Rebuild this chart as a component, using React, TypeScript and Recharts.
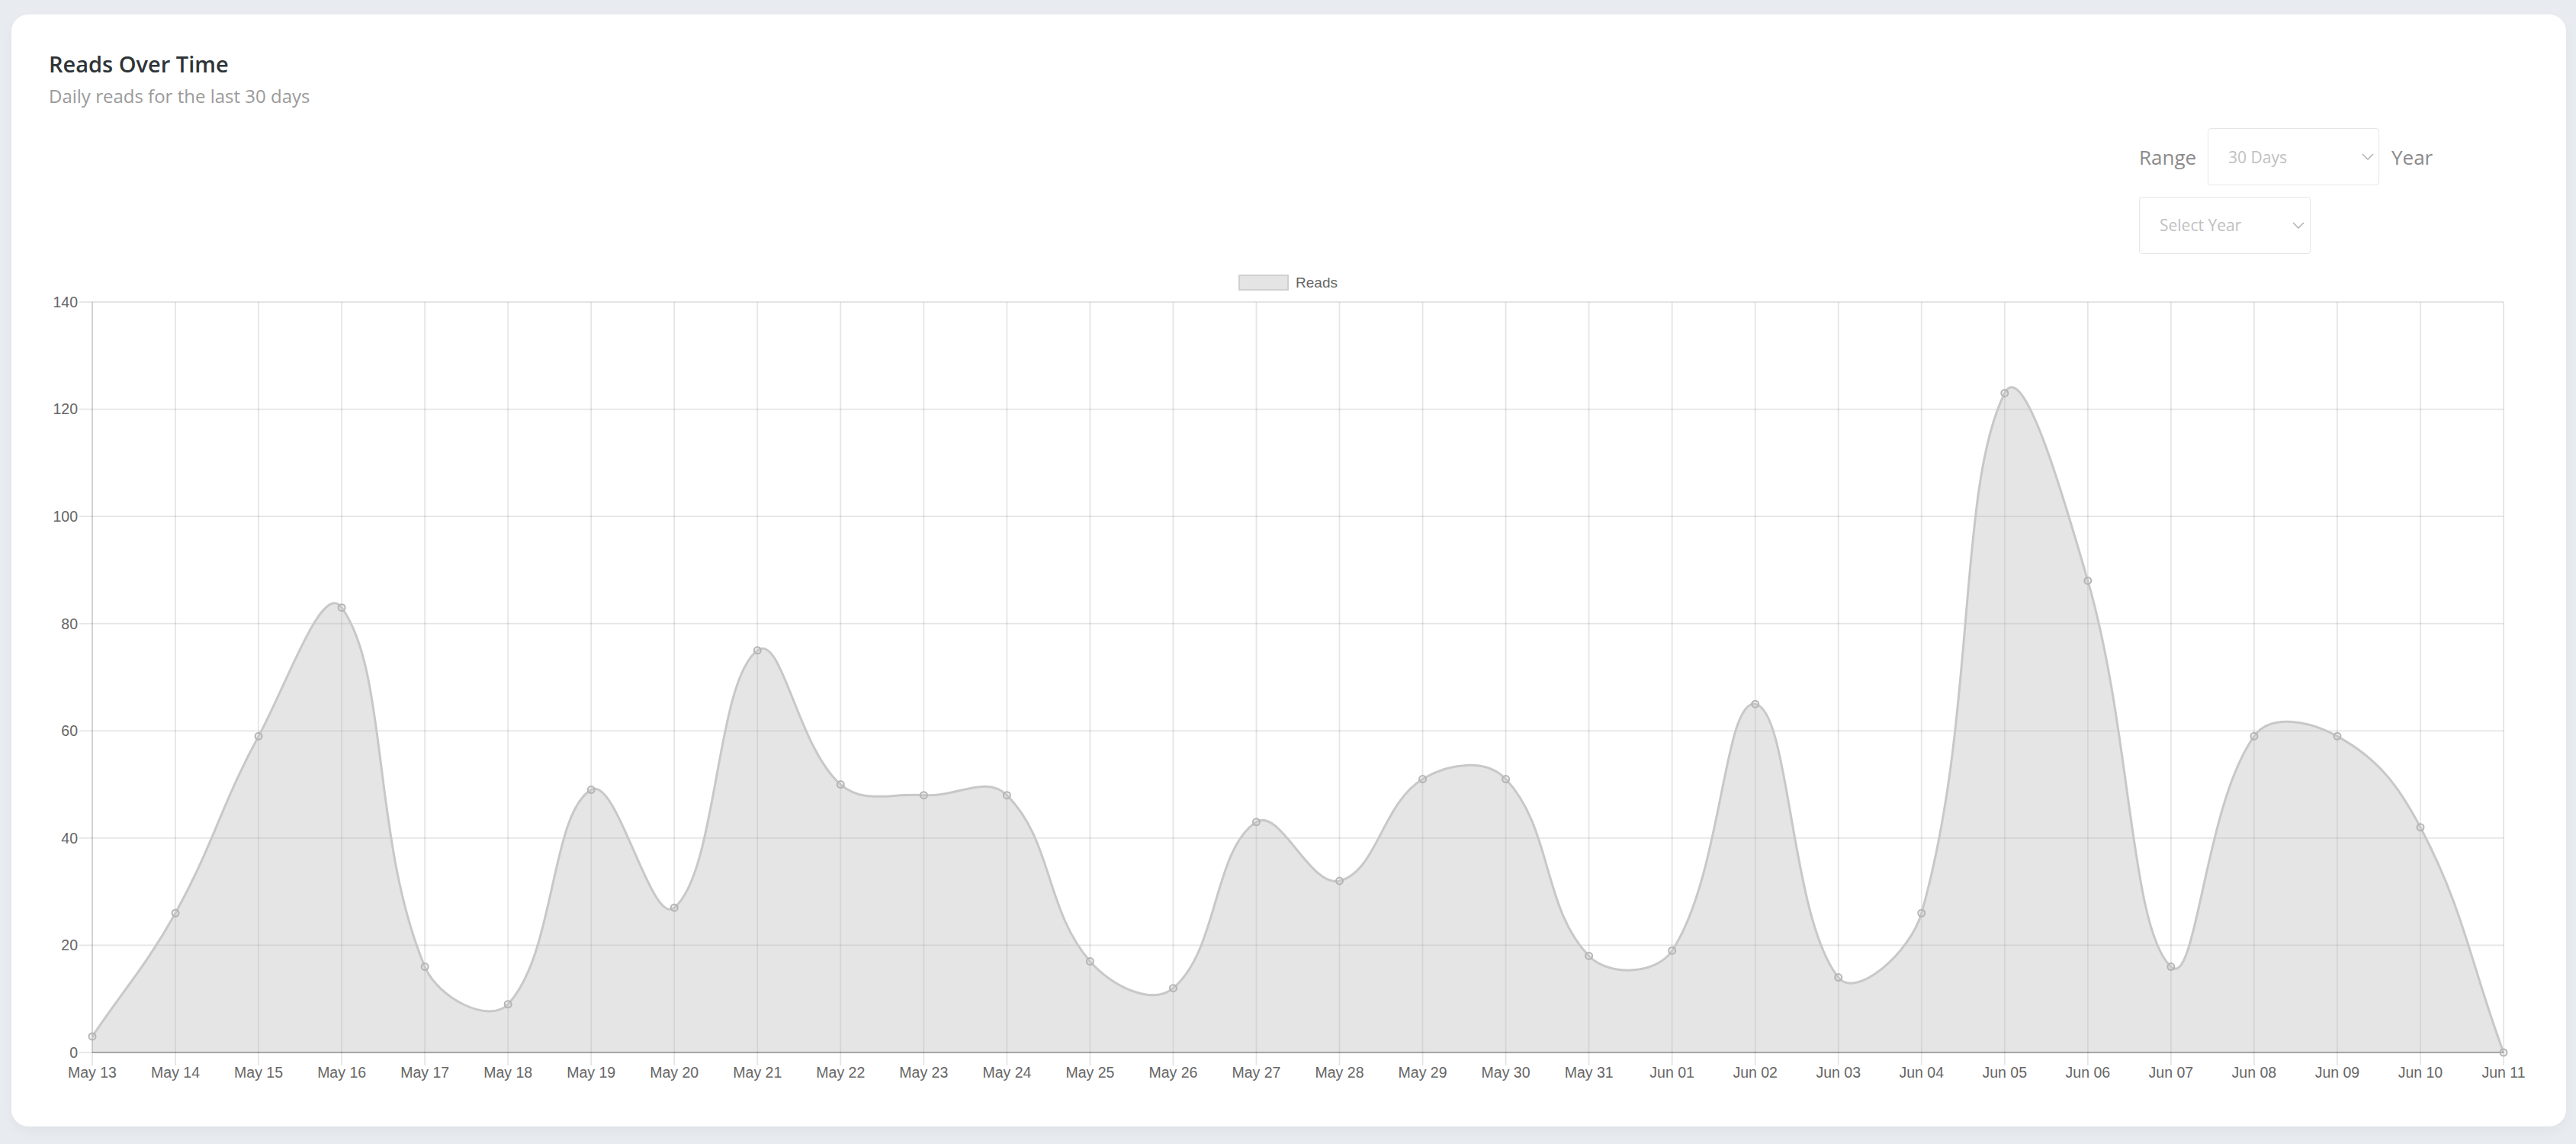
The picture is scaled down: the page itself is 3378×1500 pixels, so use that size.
import React from 'react'
import { AreaChart, Area, XAxis, YAxis, CartesianGrid, Legend } from 'recharts'

const days = [
  'May 13', 'May 14', 'May 15', 'May 16', 'May 17', 'May 18', 'May 19', 'May 20',
  'May 21', 'May 22', 'May 23', 'May 24', 'May 25', 'May 26', 'May 27', 'May 28',
  'May 29', 'May 30', 'May 31', 'Jun 01', 'Jun 02', 'Jun 03', 'Jun 04', 'Jun 05',
  'Jun 06', 'Jun 07', 'Jun 08', 'Jun 09', 'Jun 10', 'Jun 11',
]
const reads = [
  3, 26, 59, 83, 16, 9, 49, 27, 75, 50,
  48, 48, 17, 12, 43, 32, 51, 51, 18, 19,
  65, 14, 26, 123, 88, 16, 59, 59, 42, 0,
]
const yTicks = [0, 20, 40, 60, 80, 100, 120, 140]

const data = days.map((day, i) => ({ day, reads: reads[i] }))

const GRID = 'rgba(0,0,0,0.1)'
const TICK_FONT = { fill: '#666', fontSize: 19.5, fontFamily: 'Liberation Sans, Arial, sans-serif' }

// bezier like chart.js (tension 0.4), works for both line and area
function splineCurve(tension: number) {
  return (context: any) => {
    let pts: number[][] = []
    let line = NaN
    return {
      areaStart() { line = 0 },
      areaEnd() { line = NaN },
      lineStart() { pts = [] },
      point(x: number, y: number) { pts.push([+x, +y]) },
      lineEnd() {
        const n = pts.length
        if (n) {
          if (line) context.lineTo(pts[0][0], pts[0][1])
          else context.moveTo(pts[0][0], pts[0][1])
          const cps = pts.map((cur, i) => {
            const prev = pts[Math.max(0, i - 1)]
            const next = pts[Math.min(n - 1, i + 1)]
            const d01 = Math.hypot(cur[0] - prev[0], cur[1] - prev[1])
            const d12 = Math.hypot(next[0] - cur[0], next[1] - cur[1])
            let s01 = d01 / (d01 + d12)
            let s12 = d12 / (d01 + d12)
            if (isNaN(s01)) s01 = 0
            if (isNaN(s12)) s12 = 0
            const fa = tension * s01
            const fb = tension * s12
            return {
              px: cur[0] - fa * (next[0] - prev[0]),
              py: cur[1] - fa * (next[1] - prev[1]),
              nx: cur[0] + fb * (next[0] - prev[0]),
              ny: cur[1] + fb * (next[1] - prev[1]),
            }
          })
          for (let i = 0; i < n - 1; i++) {
            context.bezierCurveTo(cps[i].nx, cps[i].ny, cps[i + 1].px, cps[i + 1].py, pts[i + 1][0], pts[i + 1][1])
          }
        }
        if (line || (line !== 0 && n === 1)) context.closePath()
        line = 1 - line
      },
    }
  }
}

function LegendContent(props: any) {
  const items = props.payload || []
  return (
    <div style={{ display: 'flex', justifyContent: 'center', alignItems: 'center', height: 21 }}>
      {items.map((it: any) => (
        <div key={it.value} style={{ display: 'flex', alignItems: 'center' }}>
          <span style={{
            width: 62, height: 17, background: '#e4e4e4', border: '2px solid #d0d0d0',
            display: 'inline-block', marginRight: 9,
          }} />
          <span style={{
            fontFamily: 'Liberation Sans, Arial, sans-serif', fontSize: 19, fontWeight: 400,
            color: '#666', lineHeight: '21px',
          }}>
            {it.value}
          </span>
        </div>
      ))}
    </div>
  )
}

function Chevron({ x, y }: { x: number; y: number }) {
  return (
    <svg width={16} height={10} style={{ position: 'absolute', left: x, top: y }}>
      <polyline points="1,1 8,8 15,1" fill="none" stroke="#aaa" strokeWidth={1.3} />
    </svg>
  )
}

const openSans = '"Open Sans", "Noto Sans", sans-serif'

export default function App() {
  return (
    <div style={{ position: 'absolute', left: 0, top: 0, width: 3378, height: 1500, background: '#e8ecf0', overflow: 'hidden' }}>
      <div style={{
        position: 'absolute', left: 15, top: 19, width: 3350, height: 1458, background: '#fff',
        borderRadius: 22, boxShadow: '0 6px 16px rgba(0,0,0,0.04)',
      }} />

      <div style={{ position: 'absolute', left: 0, top: 0 }}>
        <AreaChart width={3378} height={1500} data={data} margin={{ top: 396, right: 95, bottom: 60, left: 21 }}>
          <CartesianGrid stroke={GRID} strokeWidth={1.8} />
          <XAxis
            dataKey="day"
            interval={0}
            height={60}
            tick={TICK_FONT}
            tickSize={17}
            tickMargin={2}
            tickLine={{ stroke: GRID, strokeWidth: 1.8 }}
            axisLine={{ stroke: 'rgba(0,0,0,0.25)', strokeWidth: 2 }}
          />
          <YAxis
            width={100}
            domain={[0, 140]}
            ticks={yTicks}
            tick={TICK_FONT}
            tickSize={17}
            tickMargin={2}
            tickLine={{ stroke: GRID, strokeWidth: 1.8 }}
            axisLine={{ stroke: GRID, strokeWidth: 1.8 }}
          />
          <Legend
            verticalAlign="middle"
            align="center"
            content={<LegendContent />}
            wrapperStyle={{ top: 360, left: 0, width: 3378 }}
          />
          <Area
            name="Reads"
            dataKey="reads"
            type={splineCurve(0.4) as any}
            stroke="#c8c8c8"
            strokeWidth={3}
            fill="rgb(180,180,180)"
            fillOpacity={0.35}
            dot={{ r: 4.5, fill: 'rgba(200,200,200,0.6)', stroke: '#b5b5b5', strokeWidth: 2 }}
            activeDot={false}
            isAnimationActive={false}
          />
        </AreaChart>
      </div>

      <div style={{ position: 'absolute', left: 64, top: 69, fontFamily: openSans, fontWeight: 600, fontSize: 29, lineHeight: '29px', color: '#2f3437', whiteSpace: 'nowrap' }}>
        Reads Over Time
      </div>
      <div style={{ position: 'absolute', left: 64, top: 114, fontFamily: openSans, fontSize: 24, lineHeight: '24px', color: '#9a9a9a', whiteSpace: 'nowrap' }}>
        Daily reads for the last 30 days
      </div>

      <div style={{ position: 'absolute', left: 2805, top: 193, fontFamily: openSans, fontSize: 26, lineHeight: '26px', color: '#8a8a8a' }}>Range</div>
      <div style={{ position: 'absolute', left: 2895, top: 168, width: 223, height: 73, border: '1px solid #e6e6e6', borderRadius: 4 }} />
      <div style={{ position: 'absolute', left: 2922, top: 196, fontFamily: openSans, fontSize: 21, lineHeight: '21px', color: '#c0c0c0' }}>30 Days</div>
      <Chevron x={3097} y={201} />
      <div style={{ position: 'absolute', left: 3136, top: 193, fontFamily: openSans, fontSize: 26, lineHeight: '26px', color: '#8a8a8a' }}>Year</div>

      <div style={{ position: 'absolute', left: 2805, top: 258, width: 223, height: 73, border: '1px solid #e6e6e6', borderRadius: 4 }} />
      <div style={{ position: 'absolute', left: 2832, top: 285, fontFamily: openSans, fontSize: 21, lineHeight: '21px', color: '#c0c0c0' }}>Select Year</div>
      <Chevron x={3006} y={291} />
    </div>
  )
}
